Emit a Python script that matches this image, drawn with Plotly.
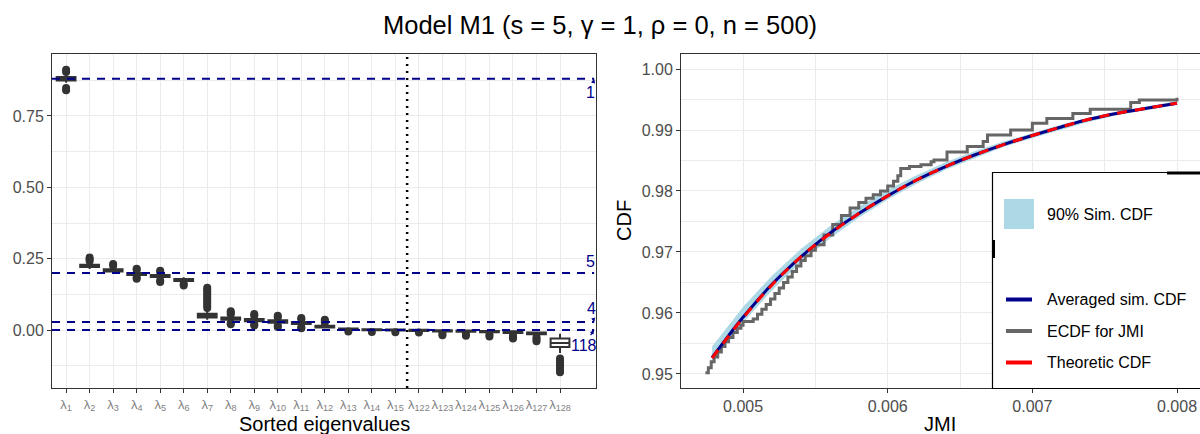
import plotly.graph_objects as go

# ---------------- data: eigenvalue boxplots (left panel) ----------------
eig_index = [1, 2, 3, 4, 5, 6, 7, 8, 9, 10, 11, 12, 13, 14, 15,
             122, 123, 124, 125, 126, 127, 128]
eig_labels = [f"λ<sub>{k}</sub>" for k in eig_index]

box_q1 = [0.874, 0.221, 0.205, 0.193, 0.186, 0.172, 0.044, 0.036, 0.031, 0.026, 0.021,
          0.009, 0.001, -0.001, -0.002, -0.003, -0.005, -0.006, -0.008, -0.010, -0.015, -0.059]
box_median = [0.880, 0.225, 0.209, 0.197, 0.190, 0.176, 0.050, 0.040, 0.035, 0.030, 0.024,
              0.012, 0.003, 0.001, 0.000, -0.001, -0.003, -0.004, -0.005, -0.007, -0.012, -0.045]
box_q3 = [0.886, 0.229, 0.213, 0.200, 0.193, 0.179, 0.057, 0.044, 0.039, 0.034, 0.028,
          0.015, 0.005, 0.003, 0.002, 0.001, -0.001, -0.002, -0.003, -0.004, -0.009, -0.030]
box_low = [0.866, 0.214, 0.199, 0.187, 0.180, 0.167, 0.036, 0.030, 0.026, 0.021, 0.016,
           0.005, -0.002, -0.004, -0.005, -0.006, -0.008, -0.010, -0.012, -0.014, -0.020, -0.080]
box_high = [0.894, 0.236, 0.220, 0.206, 0.199, 0.185, 0.070, 0.050, 0.045, 0.040, 0.033,
            0.020, 0.008, 0.006, 0.005, 0.004, 0.002, 0.001, 0.000, -0.001, -0.005, -0.013]
box_outliers = [
    [0.904, 0.912, 0.848, 0.840],
    [0.242, 0.248, 0.254],
    [0.225, 0.231],
    [0.211, 0.215, 0.184, 0.180],
    [0.204, 0.208, 0.174, 0.168],
    [0.162, 0.156],
    [0.077, 0.085, 0.093, 0.101, 0.109, 0.117, 0.125, 0.133, 0.141, 0.148],
    [0.055, 0.061, 0.066, 0.024, 0.020],
    [0.050, 0.056, 0.020, 0.016],
    [0.045, 0.050, 0.015, 0.011],
    [0.038, 0.042, 0.010, 0.006],
    [0.026, 0.032, 0.036],
    [-0.005],
    [-0.007],
    [-0.008],
    [-0.009],
    [-0.012, -0.018],
    [-0.014, -0.020],
    [-0.016, -0.023],
    [-0.019, -0.025, -0.030],
    [-0.025, -0.032, -0.039],
    [-0.100, -0.108, -0.116, -0.124, -0.132, -0.140, -0.148],
]

# theoretical eigenvalues and their multiplicities
theo_values = [0.88, 0.20, 0.028, 0.0]
theo_mult = ["1", "5", "4", "118"]

# ---------------- data: CDF comparison (right panel) ----------------
jmi_grid = [0.004786, 0.0049, 0.0050, 0.0052, 0.0054, 0.0056, 0.0058, 0.0060, 0.0062,
            0.0064, 0.0066, 0.0068, 0.0070, 0.0072, 0.0074, 0.0076, 0.0078, 0.0080]
theoretic_cdf = [0.9526, 0.9562, 0.9592, 0.9646, 0.9692, 0.9730, 0.9763, 0.9792, 0.9818,
                 0.9840, 0.9859, 0.9876, 0.9891, 0.9905, 0.9918, 0.9928, 0.9936, 0.9944]
averaged_cdf = [0.9527, 0.9563, 0.9593, 0.9647, 0.9692, 0.9731, 0.9763, 0.9792, 0.9818,
                0.9840, 0.9859, 0.9876, 0.9891, 0.9905, 0.9918, 0.9928, 0.9936, 0.9944]
band_lower = [0.9522, 0.9555, 0.9584, 0.9637, 0.9683, 0.9722, 0.9756, 0.9786, 0.9812,
              0.9835, 0.9854, 0.9872, 0.9887, 0.9901, 0.9914, 0.9925, 0.9933, 0.9941]
band_upper = [0.9545, 0.9580, 0.9610, 0.9661, 0.9705, 0.9742, 0.9774, 0.9802, 0.9826,
              0.9847, 0.9865, 0.9881, 0.9895, 0.9909, 0.9921, 0.9931, 0.9939, 0.9947]

ecdf_jmi = [0.004740, 0.004760, 0.004780, 0.004800, 0.004825, 0.004850, 0.004875, 0.004900,
            0.004930, 0.004960, 0.004985, 0.005000, 0.005070, 0.005100, 0.005130, 0.005160,
            0.005190, 0.005220, 0.005250, 0.005280, 0.005310, 0.005340, 0.005370, 0.005400,
            0.005430, 0.005470, 0.005500, 0.005560, 0.005620, 0.005680, 0.005740, 0.005800,
            0.005850, 0.005900, 0.005950, 0.006000, 0.006040, 0.006070, 0.006090, 0.006150,
            0.006230, 0.006300, 0.006320, 0.006410, 0.006550, 0.006660, 0.006690, 0.006850,
            0.007000, 0.007100, 0.007280, 0.007400, 0.007630, 0.007680, 0.007740, 0.007950,
            0.008000]
ecdf_cdf = [0.9502, 0.9510, 0.9520, 0.9528, 0.9536, 0.9545, 0.9553, 0.9560,
            0.9568, 0.9575, 0.9580, 0.9586, 0.9590, 0.9598, 0.9606, 0.9614,
            0.9623, 0.9632, 0.9641, 0.9650, 0.9659, 0.9668, 0.9677, 0.9686,
            0.9694, 0.9703, 0.9712, 0.9728, 0.9745, 0.9760, 0.9772, 0.9781,
            0.9788, 0.9794, 0.9800, 0.9808, 0.9816, 0.9825, 0.9837, 0.9840,
            0.9843, 0.9848, 0.9851, 0.9864, 0.9873, 0.9881, 0.9892, 0.9900,
            0.9911, 0.9919, 0.9927, 0.9934, 0.9934, 0.9945, 0.9949, 0.9949,
            0.9953]

# ---------------- styling ----------------
W, H = 1200, 434
FONT = "Liberation Sans, Arial, sans-serif"
DARK = "#333333"
GRID = "#EBEBEB"
TICK_TXT = "#4D4D4D"
NAVY = "#00008B"
LIGHTBLUE = "#ADD8E6"
GREY = "#666666"


def px(x):
    return x / W


def py(y):
    return 1 - y / H


positions = list(range(len(eig_index)))

fig = go.Figure()

# boxplots from summary statistics
fig.add_trace(go.Box(
    x=positions, q1=box_q1, median=box_median, q3=box_q3,
    lowerfence=box_low, upperfence=box_high,
    orientation="v", width=0.8, whiskerwidth=0,
    fillcolor="white", line=dict(color=DARK, width=2),
    boxpoints=False, hoverinfo="skip", showlegend=False,
    xaxis="x", yaxis="y",
))

# outliers
out_x, out_y = [], []
for pos, vals in zip(positions, box_outliers):
    for v in vals:
        out_x.append(pos)
        out_y.append(v)
fig.add_trace(go.Scatter(
    x=out_x, y=out_y, mode="markers",
    marker=dict(color=DARK, size=8, line=dict(width=0)),
    hoverinfo="skip", showlegend=False, xaxis="x", yaxis="y",
))

# theoretical eigenvalue reference lines
x_lo, x_hi = -0.6, 22.45
shapes = []
for v in theo_values:
    shapes.append(dict(type="line", xref="x", yref="y", x0=x_lo, x1=x_hi, y0=v, y1=v,
                       line=dict(color=NAVY, width=2, dash="8px,7px"), layer="above"))
# separator between leading and trailing eigenvalues
shapes.append(dict(type="line", xref="x", yref="y domain", x0=14.5, x1=14.5, y0=0, y1=1,
                   line=dict(color="black", width=2.5, dash="2px,5px"), layer="above"))

# right panel: simulation band
fig.add_trace(go.Scatter(x=jmi_grid, y=band_lower, mode="lines", line=dict(width=0, color=LIGHTBLUE),
                         hoverinfo="skip", showlegend=False, xaxis="x2", yaxis="y2"))
fig.add_trace(go.Scatter(x=jmi_grid, y=band_upper, mode="lines", line=dict(width=0, color=LIGHTBLUE),
                         fill="tonexty", fillcolor=LIGHTBLUE,
                         hoverinfo="skip", showlegend=False, xaxis="x2", yaxis="y2"))
# ECDF
fig.add_trace(go.Scatter(x=ecdf_jmi, y=ecdf_cdf, mode="lines", line=dict(color=GREY, width=3, shape="hv"),
                         hoverinfo="skip", showlegend=False, xaxis="x2", yaxis="y2"))
# averaged simulated CDF
fig.add_trace(go.Scatter(x=jmi_grid, y=averaged_cdf, mode="lines",
                         line=dict(color=NAVY, width=3, shape="spline"),
                         hoverinfo="skip", showlegend=False, xaxis="x2", yaxis="y2"))
# theoretic CDF
fig.add_trace(go.Scatter(x=jmi_grid, y=theoretic_cdf, mode="lines",
                         line=dict(color="#FF0000", width=3, dash="10px,8px", shape="spline"),
                         hoverinfo="skip", showlegend=False, xaxis="x2", yaxis="y2"))

# legend box (drawn by hand)
lx0, lx1, ly0, ly1 = 992.5, 1206, 172.5, 388.5
shapes.append(dict(type="rect", xref="paper", yref="paper",
                   x0=px(lx0), x1=px(lx1), y0=py(ly1), y1=py(ly0),
                   line=dict(color="black", width=1.2), fillcolor="white", layer="above"))
shapes.append(dict(type="line", xref="paper", yref="paper",
                   x0=px(1167), x1=px(1206), y0=py(173), y1=py(173),
                   line=dict(color="black", width=3), layer="above"))
shapes.append(dict(type="line", xref="paper", yref="paper",
                   x0=px(993.5), x1=px(993.5), y0=py(240), y1=py(258),
                   line=dict(color="black", width=3), layer="above"))
shapes.append(dict(type="rect", xref="paper", yref="paper",
                   x0=px(1004), x1=px(1034), y0=py(229), y1=py(199),
                   line=dict(width=0), fillcolor=LIGHTBLUE, layer="above"))

legend_lines = [("Averaged sim. CDF", NAVY, 299.5), ("ECDF for JMI", GREY, 331),
                ("Theoretic CDF", "#FF0000", 362.5)]
annotations = []
for text, col, yy in legend_lines:
    shapes.append(dict(type="line", xref="paper", yref="paper",
                       x0=px(1006), x1=px(1032), y0=py(yy), y1=py(yy),
                       line=dict(color=col, width=4), layer="above"))
    annotations.append(dict(xref="paper", yref="paper", x=px(1045), y=py(yy), text=text,
                            showarrow=False, xanchor="left", yanchor="middle",
                            font=dict(family=FONT, size=16, color="black")))
annotations.append(dict(xref="paper", yref="paper", x=px(1045), y=py(214), text="90% Sim. CDF",
                        showarrow=False, xanchor="left", yanchor="middle",
                        font=dict(family=FONT, size=16, color="black")))

# multiplicity labels with short arrows
label_offsets = [(-3.6, 14), (-3.6, -11), (-3, -14), (-10.6, 15)]
for v, m, (ax, ay) in zip(theo_values, theo_mult, label_offsets):
    annotations.append(dict(xref="x", yref="y", x=x_hi, y=v, text=m, showarrow=True,
                            ax=ax, ay=ay, arrowhead=2, arrowsize=0.7, arrowwidth=1.2,
                            arrowcolor=NAVY, standoff=0, startstandoff=0,
                            font=dict(family=FONT, size=16, color=NAVY)))

# titles
annotations.append(dict(xref="paper", yref="paper", x=0.5, y=py(25),
                        text="Model M1 (s = 5, γ = 1, ρ = 0, n = 500)", showarrow=False,
                        xanchor="center", yanchor="middle",
                        font=dict(family=FONT, size=25.5, color="black")))
annotations.append(dict(xref="paper", yref="paper", x=px(324), y=py(424), text="Sorted eigenvalues",
                        showarrow=False, xanchor="center", yanchor="middle",
                        font=dict(family=FONT, size=20, color="black")))
annotations.append(dict(xref="paper", yref="paper", x=px(940.5), y=py(424), text="JMI",
                        showarrow=False, xanchor="center", yanchor="middle",
                        font=dict(family=FONT, size=20, color="black")))
annotations.append(dict(xref="paper", yref="paper", x=px(624), y=py(221), text="CDF",
                        showarrow=False, textangle=-90, xanchor="center", yanchor="middle",
                        font=dict(family=FONT, size=20, color="black")))

axis_common = dict(showline=True, linecolor=DARK, linewidth=1, mirror=True,
                   ticks="outside", ticklen=4, tickcolor=DARK, tickwidth=1,
                   showgrid=True, gridcolor=GRID, gridwidth=1.1, zeroline=False,
                   tickfont=dict(family=FONT, size=16, color=TICK_TXT))

y_dom = [py(388), py(54)]

fig.update_layout(
    width=W, height=H, margin=dict(l=0, r=0, t=0, b=0),
    paper_bgcolor="white", plot_bgcolor="white",
    showlegend=False,
    xaxis=dict(**{**axis_common, "tickfont": dict(family=FONT, size=13, color="#7F7F7F")},
               domain=[px(52), px(596)], range=[-0.6, 22.53], tickangle=0,
               tickmode="array", tickvals=positions, ticktext=eig_labels),
    yaxis=dict(**axis_common, domain=y_dom, range=[-0.203, 0.967],
               tickmode="array", tickvals=[0, 0.25, 0.5, 0.75],
               ticktext=["0.00", "0.25", "0.50", "0.75"],
               minor=dict(tickmode="array", tickvals=[-0.125, 0.125, 0.375, 0.625, 0.875],
                          showgrid=True, gridcolor=GRID, gridwidth=0.6, ticks="")),
    xaxis2=dict(**axis_common, domain=[px(681), 1.0], range=[0.004571, 0.008159], anchor="y2",
                tickmode="array", tickvals=[0.005, 0.006, 0.007, 0.008],
                ticktext=["0.005", "0.006", "0.007", "0.008"],
                minor=dict(tickmode="array", tickvals=[0.0055, 0.0065, 0.0075],
                           showgrid=True, gridcolor=GRID, gridwidth=0.6, ticks="")),
    yaxis2=dict(**axis_common, domain=y_dom, range=[0.9477, 1.00246], anchor="x2",
                tickmode="array", tickvals=[0.95, 0.96, 0.97, 0.98, 0.99, 1.0],
                ticktext=["0.95", "0.96", "0.97", "0.98", "0.99", "1.00"],
                minor=dict(tickmode="array", tickvals=[0.955, 0.965, 0.975, 0.985, 0.995],
                           showgrid=True, gridcolor=GRID, gridwidth=0.6, ticks="")),
    shapes=shapes,
    annotations=annotations,
)

fig.write_html("out.html")
